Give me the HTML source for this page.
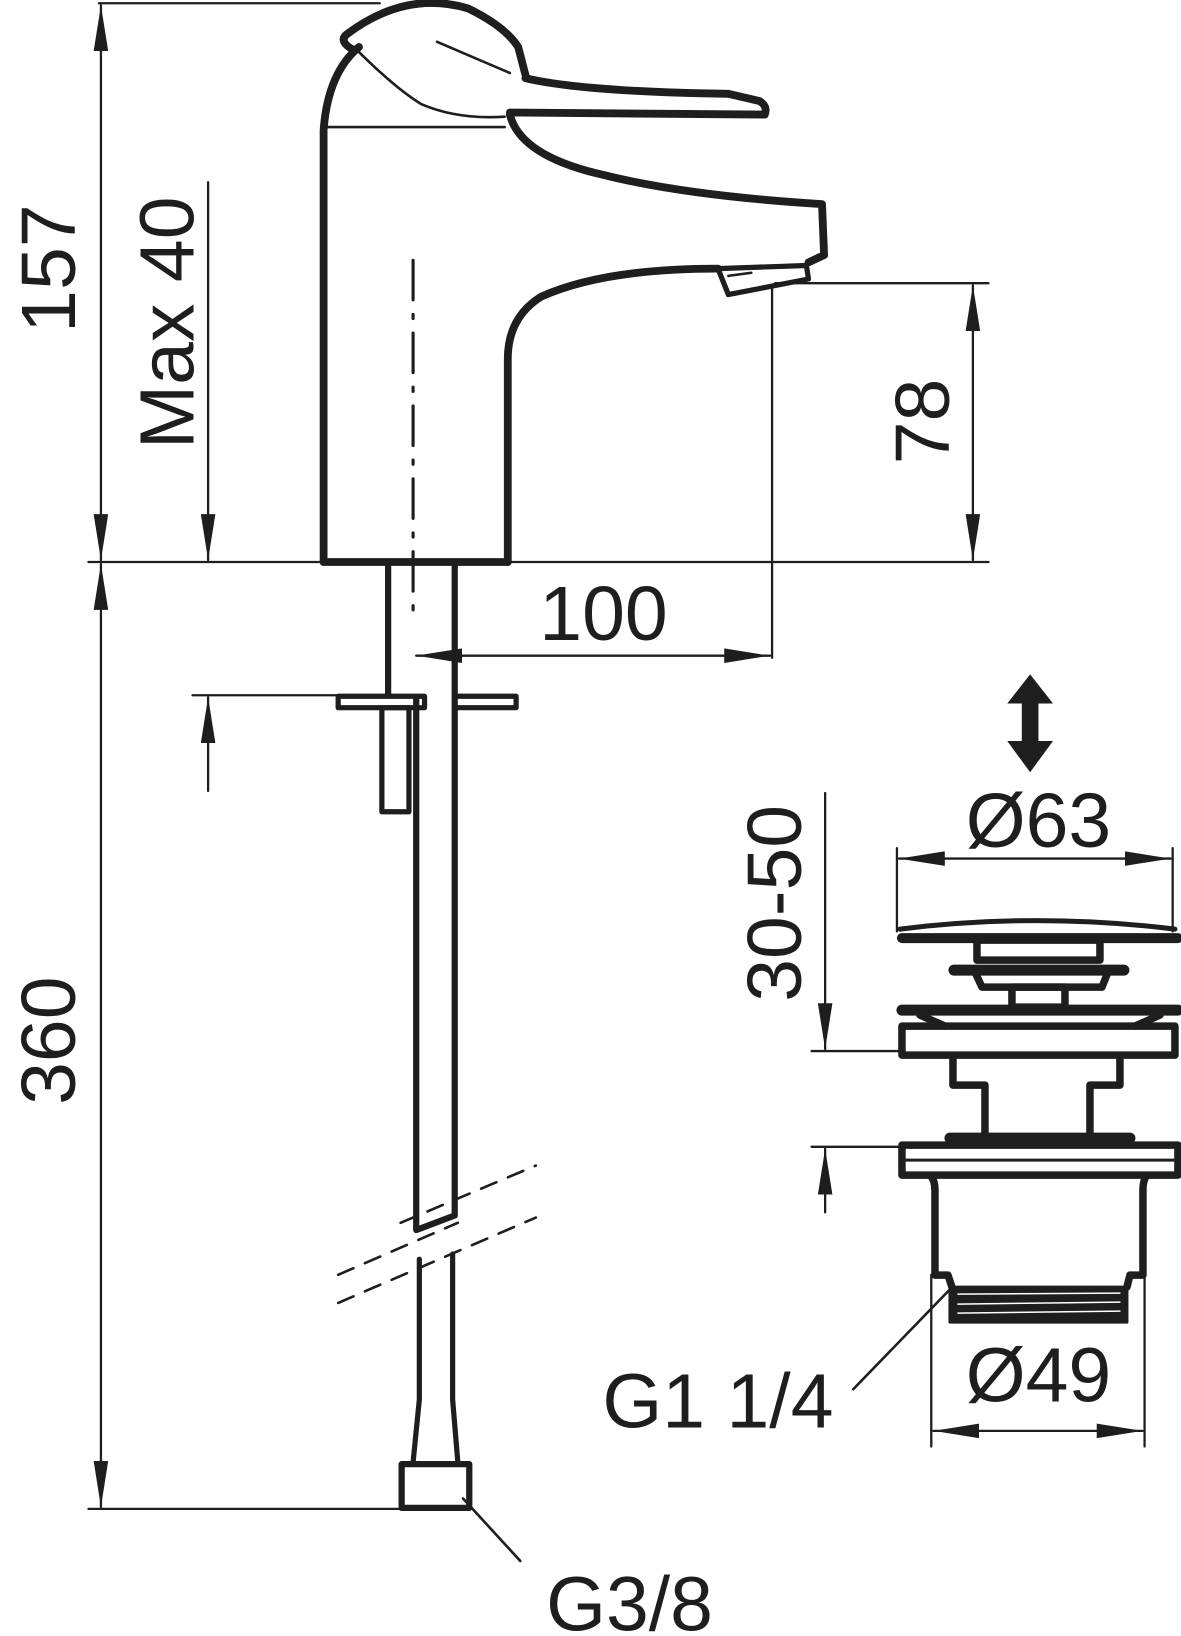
<!DOCTYPE html>
<html><head><meta charset="utf-8"><style>html,body{margin:0;padding:0;background:#fff}svg{display:block}</style></head>
<body>
<svg width="1181" height="1636" viewBox="0 0 1135 1572" xmlns="http://www.w3.org/2000/svg" font-family="Liberation Sans, sans-serif" fill="none" stroke="#1e1e1e" stroke-linejoin="round" stroke-linecap="round">
<defs>
<marker id="b" viewBox="0 0 44 14" refX="44" refY="7" markerWidth="44" markerHeight="14" markerUnits="userSpaceOnUse" orient="auto-start-reverse"><path d="M0 0L44 7L0 14z" fill="#1e1e1e" stroke="none"/></marker>
</defs>
<g stroke-width="2.2">
<line x1="95" y1="3" x2="365" y2="3"/>
<line x1="97" y1="5" x2="97" y2="538" marker-start="url(#b)" marker-end="url(#b)"/>
<line x1="85" y1="540" x2="950" y2="540"/>
<line x1="97" y1="542" x2="97" y2="1448" marker-start="url(#b)" marker-end="url(#b)"/>
<line x1="85" y1="1450" x2="385" y2="1450"/>
<line x1="200" y1="175" x2="200" y2="538" marker-end="url(#b)"/>
<line x1="200" y1="760" x2="200" y2="670" marker-end="url(#b)"/>
<line x1="185" y1="668" x2="330" y2="668"/>
<line x1="745" y1="272" x2="950" y2="272"/>
<line x1="935" y1="274" x2="935" y2="538" marker-start="url(#b)" marker-end="url(#b)"/>
<line x1="742" y1="275" x2="742" y2="632"/>
<line x1="400" y1="630" x2="740" y2="630" marker-start="url(#b)" marker-end="url(#b)"/>
<line x1="397" y1="250" x2="397" y2="600" stroke-dasharray="38,14,4,14" stroke-width="3"/>
</g>
<g fill="#1e1e1e" stroke="none" font-size="74">
<text transform="translate(72,258) rotate(-90)" text-anchor="middle">157</text>
<text transform="translate(72,1000) rotate(-90)" text-anchor="middle">360</text>
<text transform="translate(186,310) rotate(-90)" text-anchor="middle">Max 40</text>
<text transform="translate(912,405) rotate(-90)" text-anchor="middle">78</text>
<text x="580" y="615" text-anchor="middle">100</text>
<text x="605" y="1567" text-anchor="middle">G3/8</text>
<text x="690" y="1372" text-anchor="middle">G1 1/4</text>
<text x="998" y="814" text-anchor="middle">Ø63</text>
<text x="998" y="1347" text-anchor="middle">Ø49</text>
<text transform="translate(770,868) rotate(-90)" text-anchor="middle">30-50</text>
<path d="M990 648L1012 676H998V712H1012L990 742L968 712H982V676H968Z"/>
</g>
<g stroke-width="7.5">
<path d="M311 540V125Q315 70 345 45"/>
<path d="M340 48Q325 40 333 33Q390 -10 450 8Q485 25 498 45L505 72"/>
<path d="M505 75Q560 88 700 90L730 97Q738 102 735 110L490 108"/>
<path d="M490 110Q500 150 580 168Q660 188 790 196L792 245L777 252"/>
<path d="M690 258Q580 258 520 285Q488 305 488 345V540"/>
<path d="M311 540H488"/>
<path d="M690 258L775 255L777 268L700 283Z" stroke-width="5"/>
<path d="M373 540V668M437 540V1168L400 1182V670" stroke-width="6"/>
<path d="M325 669H408V680H325ZM437 669H496V680H437Z" stroke-width="5"/>
<path d="M367 680H393V780H367Z" stroke-width="5"/>
<path d="M403 1210V1345M435 1205V1345M403 1345L397 1405M435 1345L440 1405" stroke-width="5"/>
<rect x="386" y="1407" width="65" height="42" stroke-width="6"/>
</g>
<g stroke-width="2.5">
<path d="M420 40L490 70"/>
<path d="M340 45Q380 85 405 100Q440 115 485 112"/>
<line x1="310" y1="122" x2="485" y2="122"/>
<line x1="700" y1="265" x2="722" y2="262"/>
<line x1="445" y1="1440" x2="500" y2="1500"/>
<line x1="820" y1="1335" x2="912" y2="1240"/>
<path d="M385 1175L515 1120M325 1225L440 1175M325 1252L515 1170" stroke-dasharray="16,12"/>
</g>
<g stroke-width="2.2">
<line x1="862" y1="815" x2="862" y2="895"/>
<line x1="1127" y1="815" x2="1127" y2="895"/>
<line x1="864" y1="825" x2="1125" y2="825" marker-start="url(#b)" marker-end="url(#b)"/>
<line x1="793" y1="762" x2="793" y2="1008" marker-end="url(#b)"/>
<line x1="793" y1="1165" x2="793" y2="1104" marker-end="url(#b)"/>
<line x1="780" y1="1010" x2="865" y2="1010"/>
<line x1="780" y1="1102" x2="865" y2="1102"/>
<line x1="895" y1="1225" x2="895" y2="1390"/>
<line x1="1100" y1="1225" x2="1100" y2="1390"/>
<line x1="897" y1="1375" x2="1098" y2="1375" marker-start="url(#b)" marker-end="url(#b)"/>
</g>
<g transform="scale(0.961)" stroke-width="7.5">
<path d="M900 929Q1037 912 1175 929" stroke-width="5"/>
<line x1="902" y1="938" x2="1178" y2="938" stroke-width="10"/>
<rect x="977" y="940" width="123" height="20"/>
<line x1="954" y1="970" x2="1124" y2="970" stroke-width="11"/>
<path d="M975 972L982 987H1102L1108 972"/>
<rect x="1012" y="987" width="53" height="20"/>
<line x1="902" y1="1010" x2="1178" y2="1010" stroke-width="11"/>
<path d="M920 1015L945 1026M1160 1015L1135 1026"/>
<rect x="902" y="1026" width="273" height="29"/>
<path d="M953 1055V1085H985V1137M1120 1055V1085H1090V1137"/>
<line x1="950" y1="1138" x2="1130" y2="1138" stroke-width="11"/>
<rect x="902" y="1145" width="276" height="30"/>
<line x1="906" y1="1160" x2="1174" y2="1160" stroke-width="3"/>
<path d="M930 1175Q935 1180 935 1190V1275H948L952 1287M1147 1175Q1143 1180 1143 1190V1275H1130L1127 1287"/>
<rect x="950" y="1287" width="177" height="35" fill="#1e1e1e" stroke-width="3"/>
<g stroke="#fff" stroke-width="1.5"><line x1="958" y1="1294" x2="1120" y2="1293"/><line x1="958" y1="1304" x2="1120" y2="1302"/><line x1="958" y1="1313" x2="1120" y2="1311"/></g>
</g>
</svg>
</body></html>
